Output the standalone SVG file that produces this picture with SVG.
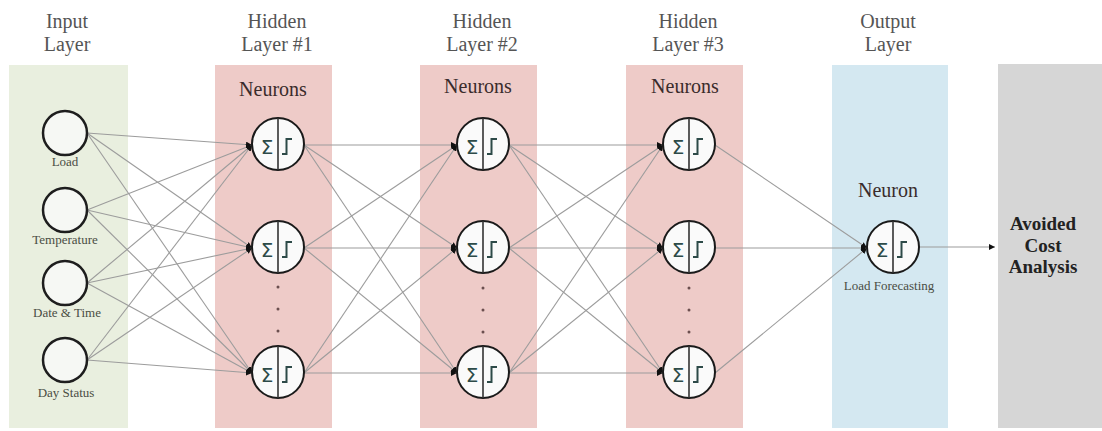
<svg xmlns="http://www.w3.org/2000/svg" xmlns:xlink="http://www.w3.org/1999/xlink" width="1102" height="431" viewBox="0 0 1102 431">
  <style>
    .head { font-family: "Liberation Serif", "DejaVu Serif", serif; font-size: 20px; fill: #555555; text-anchor: middle; }
    .sub { font-family: "Liberation Serif", "DejaVu Serif", serif; font-size: 20px; fill: #3a2c2c; text-anchor: middle; }
    .lbl { font-family: "Liberation Serif", "DejaVu Serif", serif; font-size: 13px; fill: #4a4d44; text-anchor: middle; }
    .bold { font-family: "Liberation Serif", "DejaVu Serif", serif; font-size: 19px; font-weight: bold; fill: #222222; text-anchor: middle; }
    .conn line { stroke: #9c9c9c; stroke-width: 1.1; fill: none; marker-end: url(#tip); }
    .in-circle { fill: #f6f8f4; stroke: #1e1e1e; stroke-width: 2.5; }
    .dot { fill: #6b4f4f; }
  </style>
  <defs>
    <marker id="tip" viewBox="0 0 6 6" refX="6" refY="3" markerWidth="6" markerHeight="6" markerUnits="userSpaceOnUse" orient="auto">
      <path d="M0,0 L6,3 L0,6 z" fill="#111111"/>
    </marker>
    <!-- summation / step-activation neuron, centred on the origin -->
    <g id="neuron">
      <circle r="26" fill="#fafafa" stroke="#1a1a1a" stroke-width="2"/>
      <line x1="0" y1="-26" x2="0" y2="26" stroke="#333333" stroke-width="1.6"/>
      <text x="-11" y="10" font-family="DejaVu Sans, sans-serif" font-size="20" fill="#2d4a48" text-anchor="middle">Σ</text>
      <path d="M4,10 H8.5 V-5 H14" fill="none" stroke="#2d4a48" stroke-width="2"/>
    </g>
  </defs>

  <!-- layer bands -->
  <g id="bands">
    <rect x="9" y="65" width="119" height="363" fill="#e9efdf"/>
    <rect x="215" y="65" width="117" height="363" fill="#eecbc8"/>
    <rect x="420" y="65" width="117" height="363" fill="#eecbc8"/>
    <rect x="626" y="65" width="117" height="363" fill="#eecbc8"/>
    <rect x="832" y="65" width="116" height="363" fill="#d4e8f1"/>
    <rect x="998" y="64" width="104" height="364" fill="#d6d6d6"/>
  </g>

  <!-- layer headings -->
  <g id="headings">
    <text class="head" x="67" y="28">Input</text>
    <text class="head" x="67" y="51">Layer</text>
    <text class="head" x="277" y="28">Hidden</text>
    <text class="head" x="277" y="51">Layer #1</text>
    <text class="head" x="482" y="28">Hidden</text>
    <text class="head" x="482" y="51">Layer #2</text>
    <text class="head" x="688" y="28">Hidden</text>
    <text class="head" x="688" y="51">Layer #3</text>
    <text class="head" x="888" y="28">Output</text>
    <text class="head" x="888" y="51">Layer</text>
    <text class="sub" x="273" y="96">Neurons</text>
    <text class="sub" x="478" y="93">Neurons</text>
    <text class="sub" x="685" y="93">Neurons</text>
    <text class="sub" x="888" y="197">Neuron</text>
  </g>

  <!-- connectors -->
  <g id="connectors" class="conn">
    <!-- inputs to hidden layer 1 -->
    <line x1="87" y1="133" x2="252" y2="145"/>
    <line x1="87" y1="133" x2="252" y2="248"/>
    <line x1="87" y1="133" x2="252" y2="373"/>
    <line x1="87" y1="210" x2="252" y2="145"/>
    <line x1="87" y1="210" x2="252" y2="248"/>
    <line x1="87" y1="210" x2="252" y2="373"/>
    <line x1="87" y1="283" x2="252" y2="145"/>
    <line x1="87" y1="283" x2="252" y2="248"/>
    <line x1="87" y1="283" x2="252" y2="373"/>
    <line x1="87" y1="360" x2="252" y2="145"/>
    <line x1="87" y1="360" x2="252" y2="248"/>
    <line x1="87" y1="360" x2="252" y2="373"/>
    <!-- hidden 1 to hidden 2 -->
    <line x1="304" y1="145" x2="457" y2="145"/>
    <line x1="304" y1="145" x2="457" y2="248"/>
    <line x1="304" y1="145" x2="457" y2="373"/>
    <line x1="304" y1="248" x2="457" y2="145"/>
    <line x1="304" y1="248" x2="457" y2="248"/>
    <line x1="304" y1="248" x2="457" y2="373"/>
    <line x1="304" y1="373" x2="457" y2="145"/>
    <line x1="304" y1="373" x2="457" y2="248"/>
    <line x1="304" y1="373" x2="457" y2="373"/>
    <!-- hidden 2 to hidden 3 -->
    <line x1="509" y1="145" x2="663" y2="145"/>
    <line x1="509" y1="145" x2="663" y2="248"/>
    <line x1="509" y1="145" x2="663" y2="373"/>
    <line x1="509" y1="248" x2="663" y2="145"/>
    <line x1="509" y1="248" x2="663" y2="248"/>
    <line x1="509" y1="248" x2="663" y2="373"/>
    <line x1="509" y1="373" x2="663" y2="145"/>
    <line x1="509" y1="373" x2="663" y2="248"/>
    <line x1="509" y1="373" x2="663" y2="373"/>
    <!-- hidden 3 to output -->
    <line x1="715" y1="145" x2="867" y2="248"/>
    <line x1="715" y1="248" x2="867" y2="248"/>
    <line x1="715" y1="373" x2="867" y2="248"/>
    <!-- output to analysis -->
    <line x1="919" y1="247" x2="995" y2="247"/>
  </g>

  <!-- input nodes -->
  <g id="in-load">
    <circle class="in-circle" cx="65" cy="133" r="22"/>
    <text class="lbl" x="65" y="166">Load</text>
  </g>
  <g id="in-temperature">
    <circle class="in-circle" cx="65" cy="210" r="22"/>
    <text class="lbl" x="65" y="244">Temperature</text>
  </g>
  <g id="in-datetime">
    <circle class="in-circle" cx="65" cy="283" r="22"/>
    <text class="lbl" x="67" y="317">Date &amp; Time</text>
  </g>
  <g id="in-daystatus">
    <circle class="in-circle" cx="65" cy="360" r="22"/>
    <text class="lbl" x="66" y="397">Day Status</text>
  </g>

  <!-- hidden layer 1 -->
  <g id="h1-n1"><use xlink:href="#neuron" x="278" y="144"/></g>
  <g id="h1-n2"><use xlink:href="#neuron" x="278" y="247"/></g>
  <g id="h1-n3"><use xlink:href="#neuron" x="278" y="372"/></g>
  <g id="h1-dots">
    <circle class="dot" cx="278" cy="287" r="1.5"/>
    <circle class="dot" cx="278" cy="309" r="1.5"/>
    <circle class="dot" cx="278" cy="331" r="1.5"/>
  </g>

  <!-- hidden layer 2 -->
  <g id="h2-n1"><use xlink:href="#neuron" x="483" y="144"/></g>
  <g id="h2-n2"><use xlink:href="#neuron" x="483" y="247"/></g>
  <g id="h2-n3"><use xlink:href="#neuron" x="483" y="372"/></g>
  <g id="h2-dots">
    <circle class="dot" cx="483" cy="288" r="1.5"/>
    <circle class="dot" cx="483" cy="310" r="1.5"/>
    <circle class="dot" cx="483" cy="332" r="1.5"/>
  </g>

  <!-- hidden layer 3 -->
  <g id="h3-n1"><use xlink:href="#neuron" x="689" y="144"/></g>
  <g id="h3-n2"><use xlink:href="#neuron" x="689" y="247"/></g>
  <g id="h3-n3"><use xlink:href="#neuron" x="689" y="372"/></g>
  <g id="h3-dots">
    <circle class="dot" cx="689" cy="288" r="1.5"/>
    <circle class="dot" cx="689" cy="310" r="1.5"/>
    <circle class="dot" cx="689" cy="332" r="1.5"/>
  </g>

  <!-- output neuron -->
  <g id="out-n1">
    <use xlink:href="#neuron" x="893" y="247"/>
    <text class="lbl" x="889" y="290">Load Forecasting</text>
  </g>

  <!-- downstream analysis block -->
  <g id="analysis">
    <text class="bold" x="1043" y="230">Avoided</text>
    <text class="bold" x="1043" y="252">Cost</text>
    <text class="bold" x="1043" y="273">Analysis</text>
  </g>
</svg>
